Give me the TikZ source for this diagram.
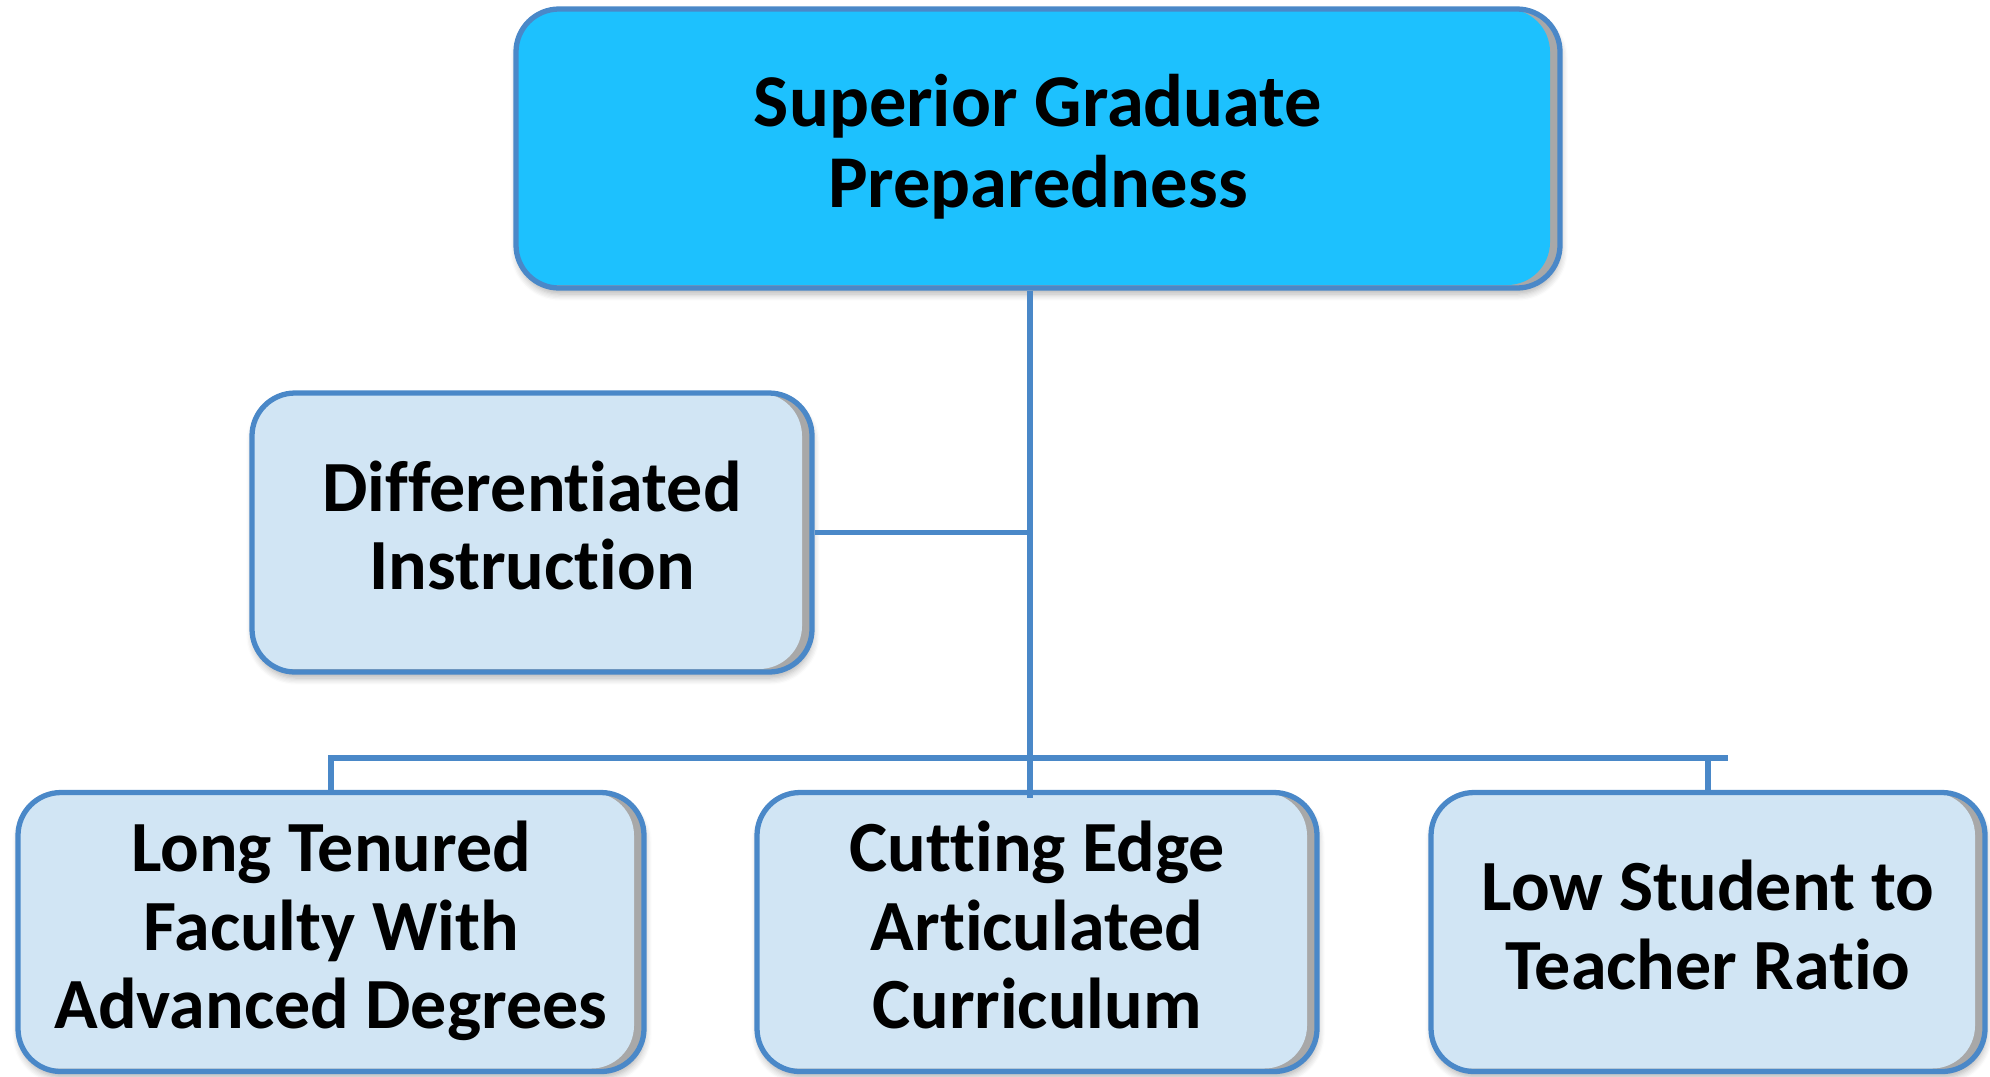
\documentclass[tikz,border=0pt]{standalone}
\usepackage{fontspec}
\setmainfont[Ligatures={NoCommon}]{Carlito}
\usetikzlibrary{shadows.blur}

\begin{document}
\begin{tikzpicture}[x=1cm,y=1cm]
\definecolor{prepTop}{HTML}{1DC1FE}
\definecolor{prepBox}{HTML}{D1E5F4}
\definecolor{prepLine}{HTML}{4A88C8}
\definecolor{prepShade}{HTML}{A8A8A8}
\tikzset{
  panel/.style={draw=prepLine, line width=1.5pt, rounded corners=0.43cm,
    fill=prepShade, inner sep=0pt, minimum height=2.79cm, align=center,
    font=\bfseries\fontsize{20.5}{22.4}\selectfont,
    execute at end node={\rule[-0.2em]{0pt}{0pt}},
    blur shadow={shadow xshift=0.01cm, shadow yshift=-0.06cm,
      shadow blur steps=6, shadow opacity=30},
    path picture={\fill[#1, rounded corners=0.43cm]
      ([xshift=-0.1cm, yshift=0.03cm]path picture bounding box.south west)
      rectangle ([xshift=-0.1cm]path picture bounding box.north east);}},
  goalbox/.style={panel=prepTop, font=\bfseries\fontsize{21.2}{23}\selectfont},
  factorbox/.style={panel=prepBox},
  link/.style={draw=prepLine, line width=1.5pt}
}
\useasboundingbox (0,0) rectangle (19.9,-10.76);

% boxes
\node[goalbox, minimum width=10.44cm] (goal) at (10.38,-1.485) {Superior Graduate\\Preparedness};
\node[factorbox, minimum width=5.6cm] (instr) at (5.32,-5.325) {Differentiated\\Instruction};
\node[factorbox, minimum width=6.26cm] (faculty) at (3.31,-9.32) {Long Tenured\\Faculty With\\Advanced Degrees};
\node[factorbox, minimum width=5.6cm] (curric) at (10.37,-9.32) {Cutting Edge\\Articulated\\Curriculum};
\node[factorbox, minimum width=5.54cm] (ratio) at (17.08,-9.32) {Low Student to\\Teacher Ratio};

% connectors
\coordinate (trunk) at (10.30,-7.58);
\coordinate (busEnd) at (17.28,-7.58);
\draw[link] (goal.south -| trunk) -- ([yshift=-0.08cm]curric.north -| trunk);
\draw[link] (instr.east) -- (instr.east -| trunk);
\draw[link] (faculty.north) |- (busEnd);
\draw[link] (ratio.north) -- (ratio.north |- busEnd);
\end{tikzpicture}
\end{document}
